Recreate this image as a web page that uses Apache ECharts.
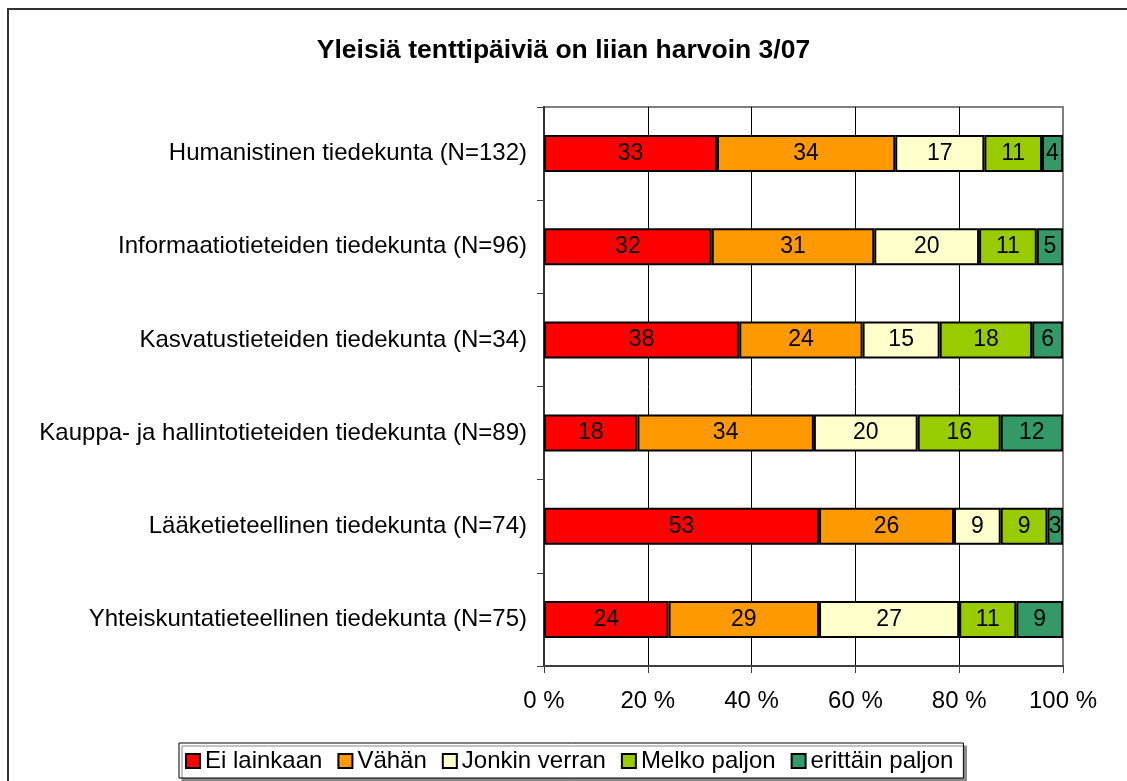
<!DOCTYPE html>
<html>
<head>
<meta charset="utf-8">
<script src="https://cdn.jsdelivr.net/npm/echarts@6/dist/echarts.min.js"></script>
<style>
  html, body { margin: 0; padding: 0; background: #fff; }
  #chart { width: 1127px; height: 781px; }
</style>
</head>
<body>
<div id="chart"></div>
<script>
// faculties, top to bottom
const categories = [
  'Humanistinen tiedekunta (N=132)',
  'Informaatiotieteiden tiedekunta (N=96)',
  'Kasvatustieteiden tiedekunta (N=34)',
  'Kauppa- ja hallintotieteiden tiedekunta (N=89)',
  'Lääketieteellinen tiedekunta (N=74)',
  'Yhteiskuntatieteellinen tiedekunta (N=75)'
]
const seriesNames = ['Ei lainkaan', 'Vähän', 'Jonkin verran', 'Melko paljon', 'erittäin paljon']
const eiLainkaan = [33, 32, 38, 18, 53, 24]
const vahan = [34, 31, 24, 34, 26, 29]
const jonkinVerran = [17, 20, 15, 20, 9, 27]
const melkoPaljon = [11, 11, 18, 16, 9, 11]
const erittainPaljon = [4, 5, 6, 12, 3, 9]
const xTicks = [0, 20, 40, 60, 80, 100]
const colors = ['#FF0000', '#FF9900', '#FFFFCC', '#99CC00', '#339966']

const font = 'Liberation Sans, Arial, sans-serif'
const allValues = [eiLainkaan, vahan, jonkinVerran, melkoPaljon, erittainPaljon]

// row totals so every bar fills 100 % (labels show the rounded percentages)
const rowSums = categories.map((c, i) => allValues.reduce((s, arr) => s + arr[i], 0))

const series = allValues.map((arr, k) => ({
  name: seriesNames[k],
  type: 'bar',
  stack: 'total',
  barWidth: 37,
  data: arr.map((v, i) => ({ value: v / rowSums[i] * 100, raw: v })),
  itemStyle: {
    color: colors[k],
    borderColor: '#000',
    borderWidth: 2
  },
  label: {
    show: true,
    position: 'inside',
    color: '#000',
    fontFamily: font,
    fontSize: 23,
    formatter: p => p.data.raw
  }
}))

const myChart = echarts.init(document.getElementById('chart'))

const option = {
  backgroundColor: '#fff',
  animation: false,
  title: {
    text: 'Yleisiä tenttipäiviä on liian harvoin 3/07',
    left: 'center',
    top: 32,
    textStyle: {
      fontFamily: font,
      fontSize: 26.5,
      fontWeight: 'bold',
      color: '#000'
    }
  },
  graphic: [{
    type: 'rect',
    z: -1,
    shape: { x: 8, y: 9, width: 1200, height: 900 },
    style: { fill: 'none', stroke: '#333', lineWidth: 2 }
  }],
  legend: {
    data: seriesNames,
    left: 179,
    bottom: 3,
    itemWidth: 14,
    itemHeight: 14,
    itemGap: 15,
    padding: [6, 10, 5, 6],
    backgroundColor: '#fff',
    borderColor: '#000',
    borderWidth: 1,
    shadowColor: '#888',
    shadowOffsetX: 3,
    shadowOffsetY: 3,
    shadowBlur: 0,
    icon: 'rect',
    itemStyle: { borderColor: '#000', borderWidth: 2 },
    textStyle: {
      fontFamily: font,
      fontSize: 24,
      color: '#000'
    }
  },
  grid: {
    left: 544,
    right: 64,
    top: 107,
    bottom: 115,
    show: true,
    borderColor: '#808080',
    borderWidth: 2,
    backgroundColor: '#fff'
  },
  xAxis: {
    type: 'value',
    min: xTicks[0],
    max: xTicks[xTicks.length - 1],
    interval: 20,
    axisLine: { show: true, lineStyle: { color: '#404040', width: 2 } },
    axisTick: { show: true, length: 7, lineStyle: { color: '#404040', width: 1 } },
    axisLabel: {
      formatter: '{value} %',
      margin: 23,
      color: '#000',
      fontFamily: font,
      fontSize: 24
    },
    splitLine: {
      show: true,
      showMinLine: false,
      showMaxLine: false,
      lineStyle: { color: '#000', width: 1 }
    }
  },
  yAxis: {
    type: 'category',
    inverse: true,
    data: categories,
    axisLine: { show: true, lineStyle: { color: '#333', width: 2 } },
    axisTick: { show: true, length: 7, lineStyle: { color: '#404040', width: 1 } },
    axisLabel: {
      margin: 17,
      color: '#000',
      fontFamily: font,
      fontSize: 24
    },
    splitLine: { show: false }
  },
  series: series
}

myChart.setOption(option)
</script>
</body>
</html>
